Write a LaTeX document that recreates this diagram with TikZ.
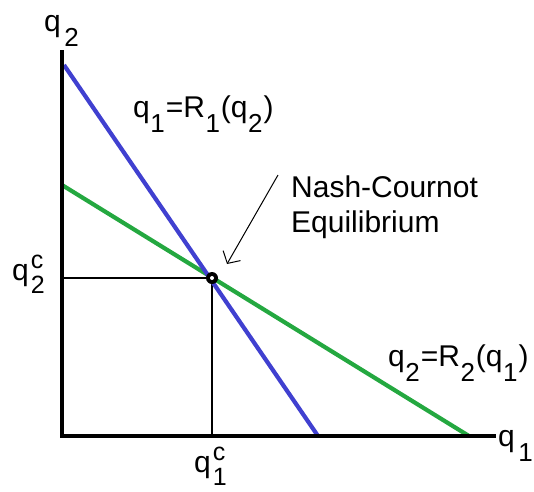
\documentclass[tikz,border=0pt]{standalone}
\usepackage{fontspec}
\setmainfont{Liberation Sans}
\usetikzlibrary{arrows.meta}
\definecolor{rblue}{RGB}{64,64,208}
\definecolor{rgreen}{RGB}{36,168,64}
\tikzset{
  axis/.style={line width=3.2pt, black},
  resp/.style={line width=4.2pt},
  guide/.style={line width=1.4pt, black},
  lbl/.style={font=\fontsize{30}{36}\selectfont, inner sep=0pt},
}
% subscript: nearly full size, lowered
\newcommand{\sbs}[1]{\kern0.5pt\raisebox{-15pt}{\fontsize{26}{26}\selectfont #1}\kern1pt}
% stacked sub and superscript
\newcommand{\sbsp}[2]{\kern2pt\raisebox{-13pt}{\fontsize{25}{25}\selectfont\rlap{\raisebox{25pt}{#2}}#1}}
\begin{document}
\begin{tikzpicture}[x=1pt,y=-1pt]
\useasboundingbox (0,0) rectangle (534,491);
% key points
\coordinate (O) at (62,436);
\coordinate (Ytop) at (62,50);
\coordinate (Xend) at (496,436);
\coordinate (B1) at (64,65);
\coordinate (B2) at (318,436);
\coordinate (G1) at (62,185);
\coordinate (G2) at (469,436);
\coordinate (E) at (212,278);
\coordinate (Ey) at (62,278);
\coordinate (Ex) at (212,436);
% guides
\draw[guide] (Ey) -- (E);
\draw[guide] (E) -- (Ex);
% response curves
\draw[resp, rgreen] (G1) -- (G2);
\draw[resp, rblue] (B1) -- (B2);
% axes
\draw[axis] (Ytop) -- (O) -- (Xend);
% equilibrium dot
\fill[black] (E) circle (6);
\fill[white] (E) circle (2);
% labels
\node[lbl, anchor=base west] (ylab) at (44,31) {q\kern3pt\sbs{2}};
\node[lbl, anchor=base west] (xlab) at (498,446) {q\kern3pt\sbs{1}};
\node[lbl, anchor=base west] (q2c) at (12,280) {q\sbsp{2}{c}};
\node[lbl, anchor=base west] (q1c) at (194,472) {q\sbsp{1}{c}};
\node[lbl, anchor=base west] (r1) at (133,117) {q\sbs{1}=R\sbs{1}(q\sbs{2})};
\node[lbl, anchor=base west] (r2) at (388,366) {q\sbs{2}=R\sbs{2}(q\sbs{1})};
\node[lbl, anchor=north west, align=left, font=\fontsize{30}{35}\selectfont] (nash) at (291,176) {Nash-Cournot\\Equilibrium};
\coordinate (atail) at (278,175);
\coordinate (ahead) at (227,264);
\draw[line width=1pt, -{Straight Barb[length=9pt,width=20pt]}] (atail) -- (ahead);
\end{tikzpicture}
\end{document}
